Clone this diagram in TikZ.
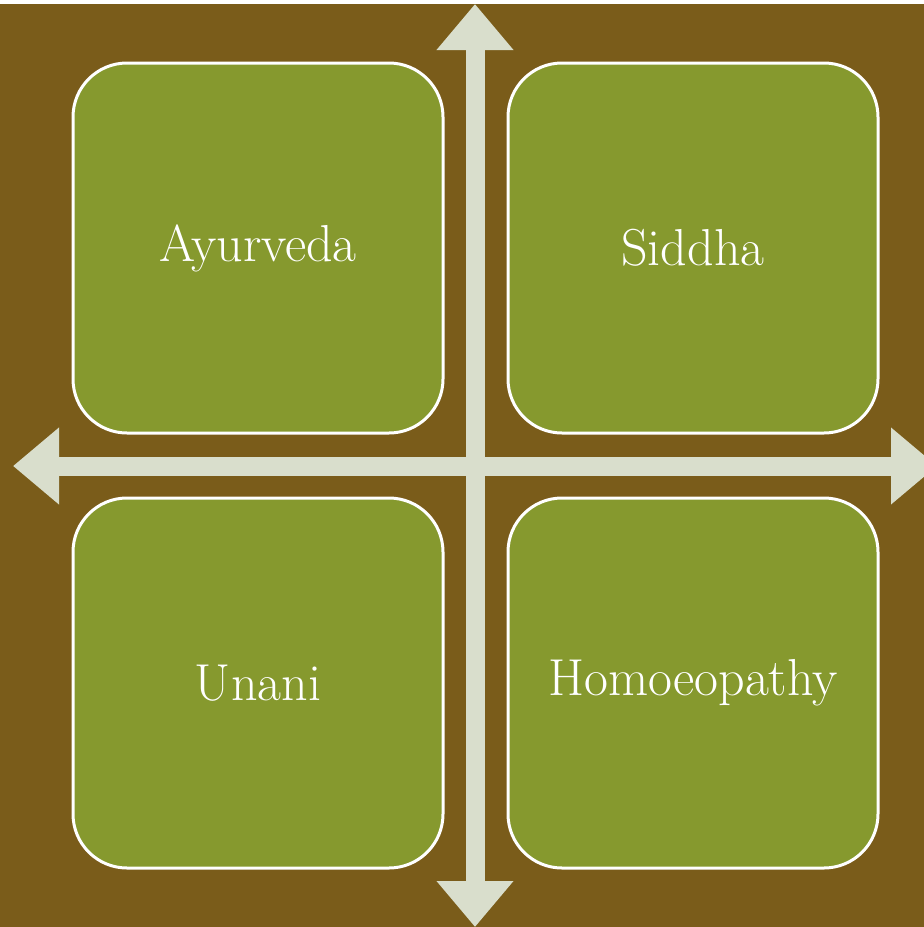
\documentclass[tikz,border=0pt]{standalone}
\usetikzlibrary{arrows.meta}
\definecolor{bgbrown}{HTML}{7A5C1A}
\definecolor{boxgreen}{HTML}{86992E}
\definecolor{arrowgray}{HTML}{D9DECC}
\tikzset{
  quad/.style={rectangle, rounded corners=54pt, draw=white, line width=3pt,
    fill=boxgreen, minimum width=370pt, minimum height=370pt, inner sep=0pt,
    text=white, font=\fontsize{52}{60}\selectfont},
  axis/.style={draw=arrowgray, line width=19pt,
    {Triangle[width=74pt,length=46pt]}-{Triangle[width=74pt,length=46pt]}}
}
\begin{document}
\begin{tikzpicture}[x=1pt,y=-1pt]
  \useasboundingbox (0,0) rectangle (924,927);
  \clip (0,0) rectangle (924,927);
  \fill[white] (0,0) rectangle (924,927);
  \fill[bgbrown] (0,4) rectangle (924,927);
  \node[quad] (ayur) at (258,248) {Ayurveda};
  \node[quad] (sidd) at (693,248) {Siddha};
  \node[quad] (unani) at (258,683) {Unani};
  \node[quad] (homo) at (693,683) {Homoeopathy};
  \coordinate (top) at (475,4);
  \coordinate (bottom) at (475,927);
  \coordinate (left) at (13,466);
  \coordinate (right) at (937,466);
  \draw[axis] (top) -- (bottom);
  \draw[axis] (left) -- (right);
\end{tikzpicture}
\end{document}
